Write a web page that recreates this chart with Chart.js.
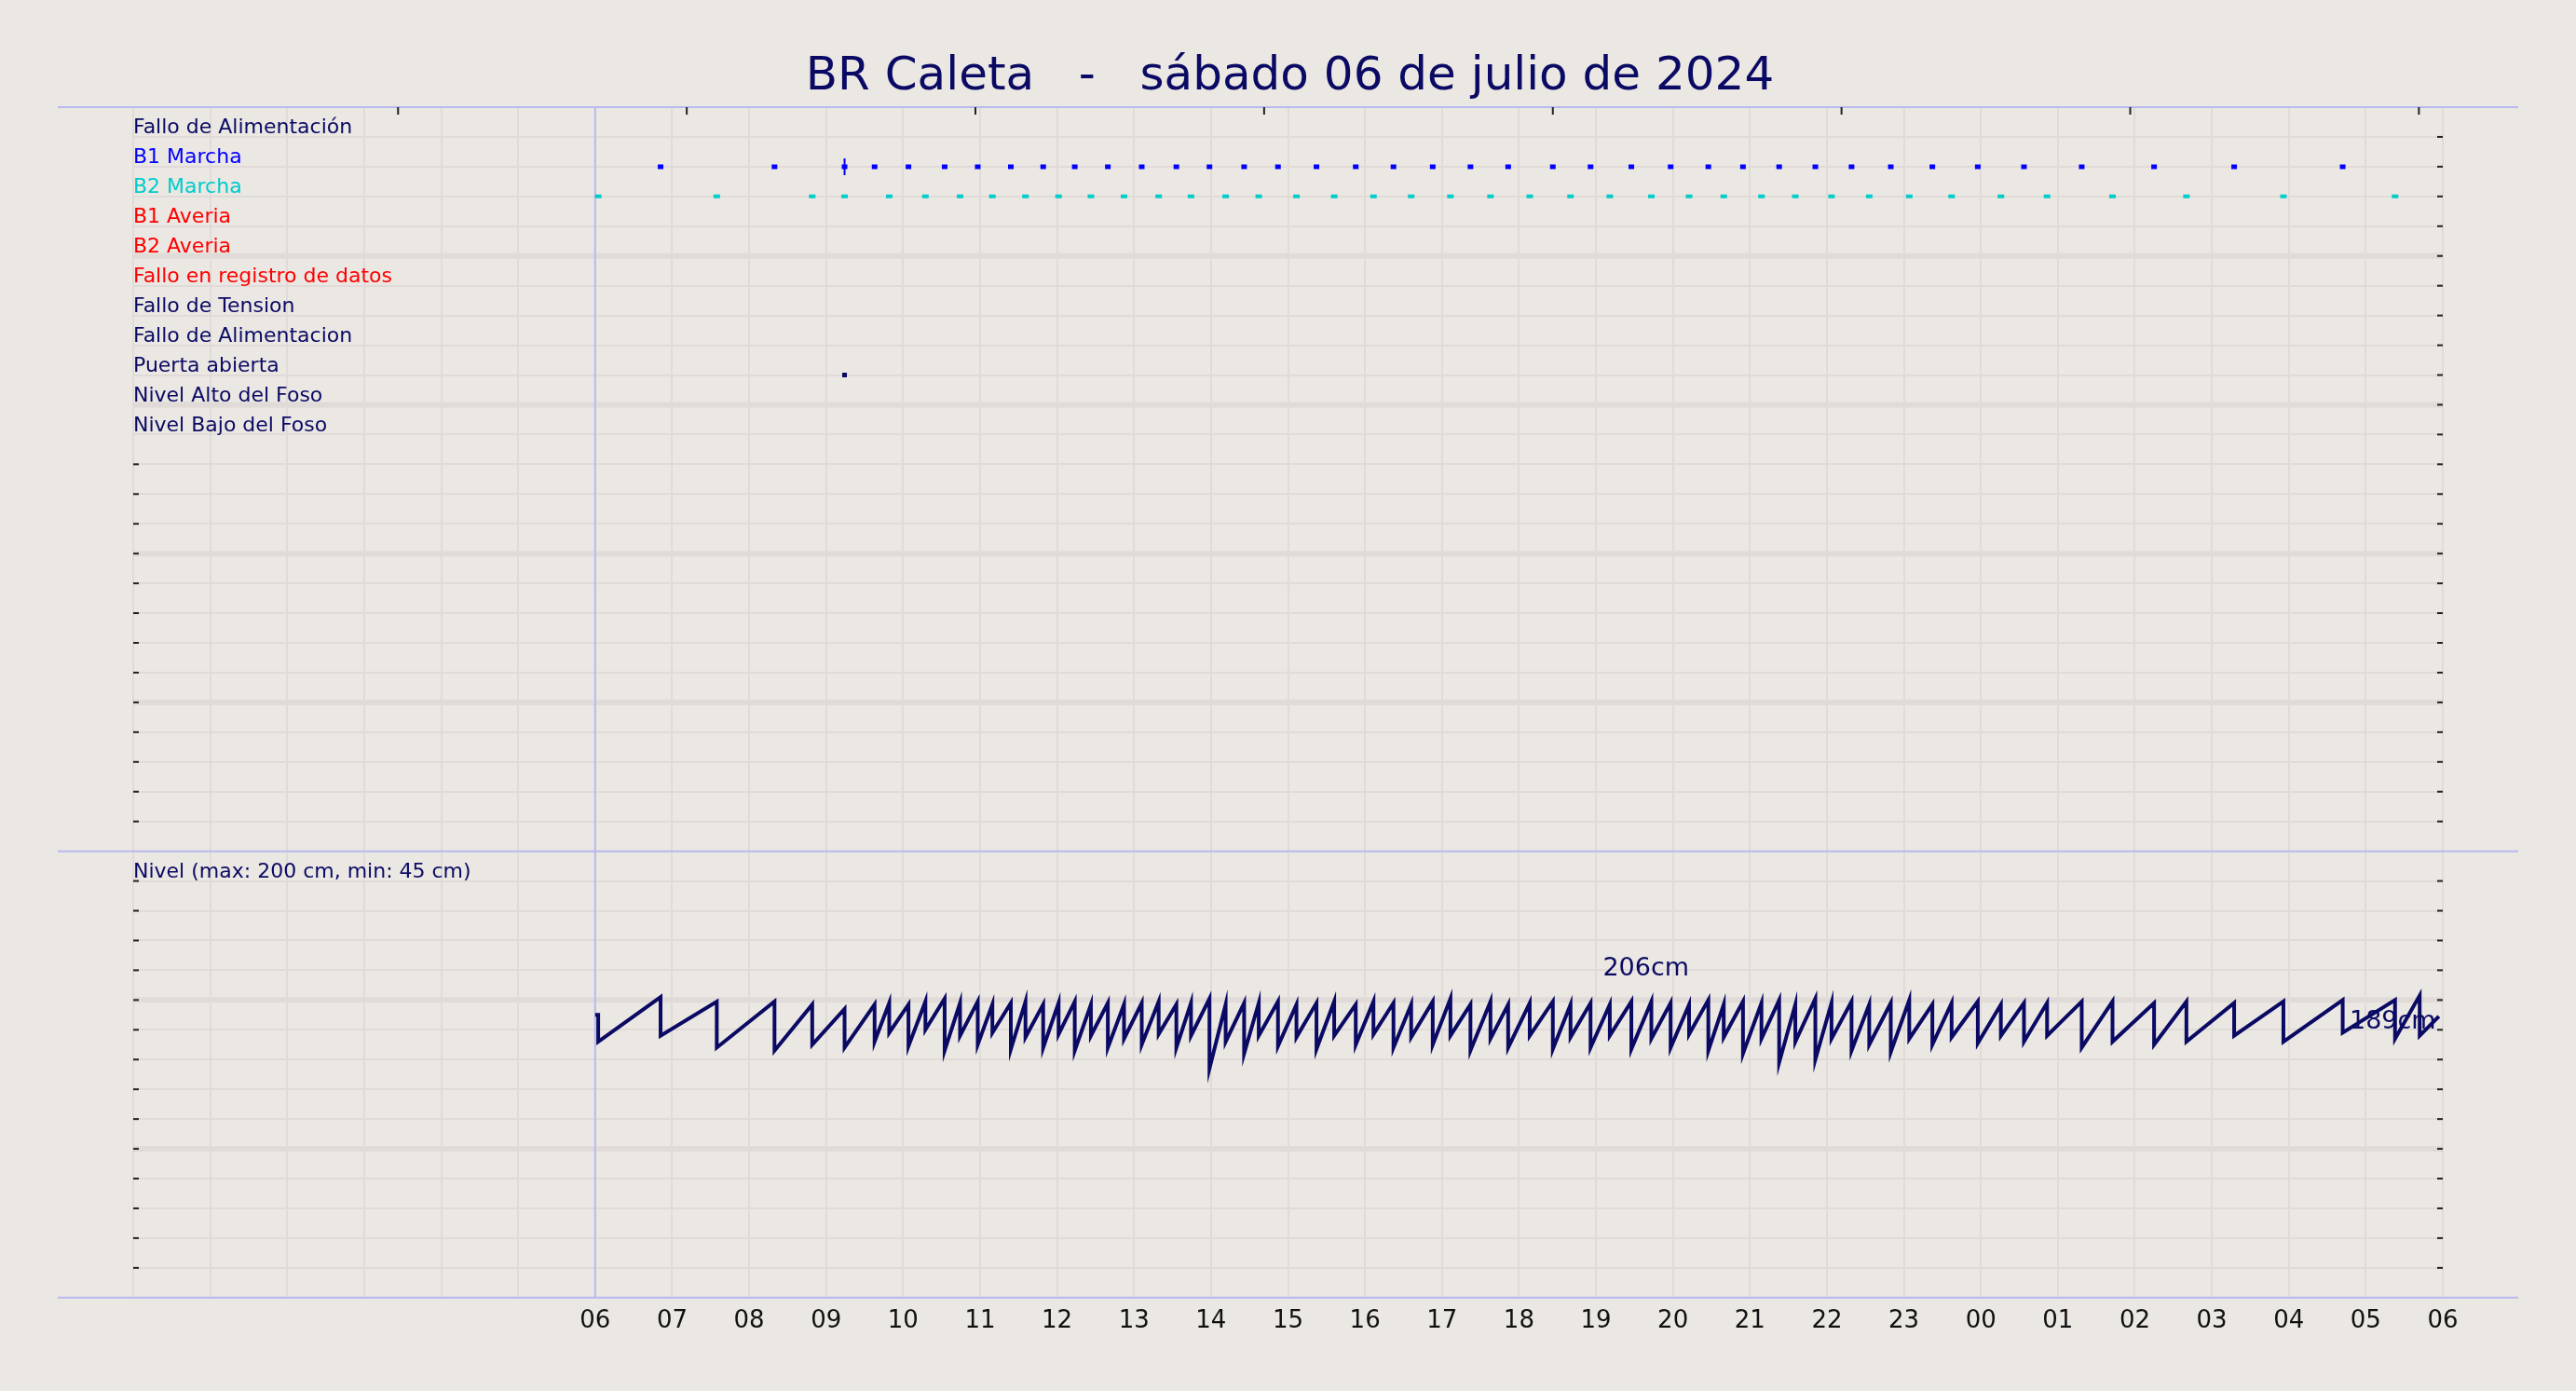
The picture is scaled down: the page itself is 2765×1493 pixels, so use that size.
<!DOCTYPE html>
<html><head><meta charset="utf-8">
<script src="https://cdn.jsdelivr.net/npm/chart.js@4.4.1/dist/chart.umd.min.js"></script>
<style>html,body{margin:0;padding:0;background:#ebe7e2;}#c{display:block;}</style>
</head><body><canvas id="c" width="2765" height="1493"></canvas>
<script>
const titleText = "BR Caleta   -   sábado 06 de julio de 2024";
const rowLabels = ["Fallo de Alimentación","B1 Marcha","B2 Marcha","B1 Averia","B2 Averia","Fallo en registro de datos","Fallo de Tension","Fallo de Alimentacion","Puerta abierta","Nivel Alto del Foso","Nivel Bajo del Foso"];
const rowColors = ["#0a0a64","#0000ff","#00cccc","#ff0000","#ff0000","#ff0000","#0a0a64","#0a0a64","#0a0a64","#0a0a64","#0a0a64"];
const b1Times = [6.85,8.33,9.24,9.63,10.07,10.54,10.97,11.40,11.82,12.23,12.66,13.10,13.55,13.98,14.43,14.87,15.37,15.88,16.37,16.88,17.37,17.86,18.44,18.93,19.46,19.97,20.46,20.91,21.38,21.85,22.32,22.83,23.37,23.96,24.56,25.31,26.25,27.29,28.70];
const b2Times = [6.04,7.58,8.82,9.24,9.82,10.29,10.74,11.16,11.59,12.02,12.44,12.87,13.32,13.74,14.19,14.62,15.11,15.60,16.11,16.60,17.11,17.63,18.14,18.67,19.18,19.72,20.21,20.66,21.15,21.59,22.06,22.55,23.07,23.62,24.26,24.86,25.71,26.67,27.93,29.38];
const puertaTimes = [9.24];
const pumpTimes = [6.04,6.85,7.58,8.33,8.82,9.24,9.63,9.82,10.07,10.29,10.54,10.74,10.97,11.16,11.40,11.59,11.82,12.02,12.23,12.44,12.66,12.87,13.10,13.32,13.55,13.74,13.98,14.19,14.43,14.62,14.87,15.11,15.37,15.60,15.88,16.11,16.37,16.60,16.88,17.11,17.37,17.63,17.86,18.14,18.44,18.67,18.93,19.18,19.46,19.72,19.97,20.21,20.46,20.66,20.91,21.15,21.38,21.59,21.85,22.06,22.32,22.55,22.83,23.07,23.37,23.62,23.96,24.26,24.56,24.86,25.31,25.71,26.25,26.67,27.29,27.93,28.70,29.38];
const levelTroughs = [172,176,168,166,170,168,172,178,169,180,166,176,170,178,167,175,168,177,166,176,168,174,170,177,168,176,154,172,164,176,169,175,167,176,170,177,168,175,170,176,166,174,168,176,167,175,168,176,167,174,168,177,166,175,164,174,158,172,160,174,166,170,165,174,170,175,171,176,172,176,168,172,170,172,176,172,178,174];
const levelPeaks = [202,199,199,197,194,197,198,197,199,201,198,199,197,198,199,197,198,199,197,198,197,198,199,197,198,201,197,198,198,199,197,198,199,197,199,198,197,199,201,197,199,197,198,199,197,198,197,199,199,198,197,200,197,199,198,200,197,201,198,199,197,198,200,197,198,199,197,198,198,199,199,198,199,198,199,200,200,203];
const levelStart = [6.0, 190];
const levelEnd = [29.95, 189];
const levelAnnotations = [{x:19.65, v:206, dy:0.75, text:"206cm"},{x:29.35, v:189, dy:-0.2, text:"189cm"}];
const hourTicks = [0,1,2,3,4,5,6,7,8,9,10,11,12,13,14,15,16,17,18,19,20,21,22,23,24,25,26,27,28,29,30];
const cmPerRow = 20;
const topRow = 40;

const levelPts = [{x:levelStart[0], y:levelStart[1]/cmPerRow}];
pumpTimes.forEach((t,i)=>{
  const prevPeak = i===0 ? levelStart[1] : levelPeaks[i-1];
  levelPts.push({x:t, y:prevPeak/cmPerRow});
  levelPts.push({x:t, y:levelTroughs[i]/cmPerRow});
});
levelPts.push({x:29.7, y:levelPeaks[levelPeaks.length-1]/cmPerRow});
levelPts.push({x:29.7, y:176/cmPerRow});
levelPts.push({x:levelEnd[0], y:levelEnd[1]/cmPerRow});

const rowY = i => topRow - 1 - i;
const ev = (times,row) => times.map(t=>({x:t,y:rowY(row)}));

const bg = "#ebe7e2";
const overlay = {
  id:'overlay',
  beforeDraw(chart){
    const c=chart.ctx; c.save(); c.fillStyle=bg; c.fillRect(0,0,chart.width,chart.height); c.restore();
  },
  beforeDatasetsDraw(chart){
    const c=chart.ctx, xs=chart.scales.x, ys=chart.scales.y, a=chart.chartArea;
    c.save();
    c.strokeStyle="#e0dbd8"; c.lineWidth=6;
    [5,10,20,25,30,35].forEach(v=>{const y=ys.getPixelForValue(v);c.beginPath();c.moveTo(a.left,y);c.lineTo(a.right,y);c.stroke();});
    c.strokeStyle="#b9b9f2"; c.lineWidth=2;
    [0,15,40].forEach(v=>{const y=ys.getPixelForValue(v);c.beginPath();c.moveTo(62,y);c.lineTo(2703,y);c.stroke();});
    const x6=xs.getPixelForValue(6); c.beginPath();c.moveTo(x6,a.top);c.lineTo(x6,a.bottom);c.stroke();
    c.strokeStyle="#222"; c.lineWidth=2;
    for(let v=1;v<40;v++){ if(v===15) continue; const y=ys.getPixelForValue(v); c.beginPath();c.moveTo(a.right-6,y);c.lineTo(a.right,y);c.stroke();}
    for(let v=1;v<29;v++){ if(v===15) continue; const y=ys.getPixelForValue(v); c.beginPath();c.moveTo(a.left,y);c.lineTo(a.left+6,y);c.stroke();}
    [3.44,7.19,10.94,14.69,18.44,22.19,25.94,29.69].forEach(h=>{const x=xs.getPixelForValue(h);c.beginPath();c.moveTo(x,a.top);c.lineTo(x,a.top+8);c.stroke();});
    c.font="22px 'DejaVu Sans'"; c.textBaseline="middle"; c.textAlign="left";
    rowLabels.forEach((l,i)=>{c.fillStyle=rowColors[i]; c.fillText(l, xs.getPixelForValue(0), ys.getPixelForValue(rowY(i)+0.3));});
    c.fillStyle="#0a0a64";
    c.fillText("Nivel (max: 200 cm, min: 45 cm)", xs.getPixelForValue(0), ys.getPixelForValue(14.3));
    c.restore();
  },
  afterDatasetsDraw(chart){
    const c=chart.ctx, xs=chart.scales.x, ys=chart.scales.y;
    c.save();
    c.font="27px 'DejaVu Sans'"; c.textAlign="center"; c.textBaseline="middle"; c.fillStyle="#0a0a64";
    levelAnnotations.forEach(a=>{c.fillText(a.text, xs.getPixelForValue(a.x), ys.getPixelForValue(a.v/cmPerRow+a.dy));});
    c.font="50px 'DejaVu Sans'"; c.fillText(titleText, chart.width/2+2, 83);
    c.restore();
  }
};

new Chart(document.getElementById('c'),{
  type:'scatter',
  data:{datasets:[
    {data:levelPts, showLine:true, borderColor:"#0a0a64", borderWidth:4, pointRadius:0, tension:0},
    {data:ev(b1Times,1), pointStyle:'line', pointRadius:3, borderColor:"#0000ff", borderWidth:5, backgroundColor:"#0000ff"},
    {data:ev(b2Times,2), pointStyle:'line', pointRadius:3.5, borderColor:"#00cccc", borderWidth:4, backgroundColor:"#00cccc"},
    {data:ev([9.24],1), pointStyle:'line', rotation:90, pointRadius:9, borderColor:"#0000ff", borderWidth:2},
    {data:ev(puertaTimes,8), pointStyle:'line', pointRadius:2.5, borderColor:"#0a0a64", borderWidth:5}
  ]},
  options:{
    responsive:false, animation:false, devicePixelRatio:1,
    layout:{padding:{left:143,right:143,top:115,bottom:49}},
    plugins:{legend:{display:false},tooltip:{enabled:false}},
    scales:{
      x:{type:'linear',min:0,max:30,afterBuildTicks(s){s.ticks=hourTicks.map(v=>({value:v}));},
        ticks:{font:{size:26,family:"DejaVu Sans"},color:"#111",padding:10,maxRotation:0,autoSkip:false,
          callback:v=>v>=6?String(v%24).padStart(2,'0'):''},
        grid:{color:"#e0dbd8",lineWidth:2,tickLength:0},border:{display:false}},
      y:{type:'linear',min:0,max:40,display:true,
        afterBuildTicks(s){s.ticks=Array.from({length:41},(_,i)=>({value:i}));},
        ticks:{display:false},grid:{color:"#e0dbd8",lineWidth:2,tickLength:0,drawTicks:false},border:{display:false}}
    }
  },
  plugins:[overlay]
});
</script></body></html>
